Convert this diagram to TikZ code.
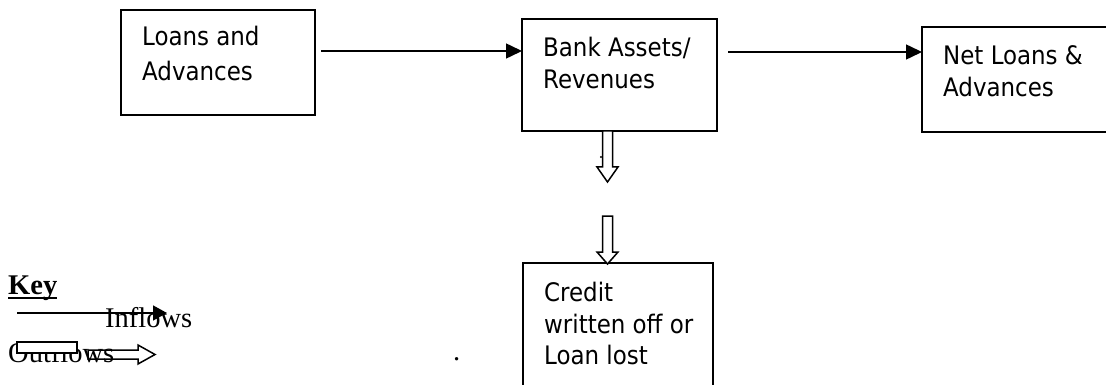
\documentclass[tikz,border=0pt]{standalone}
\usepackage{fontspec}
\usetikzlibrary{arrows.meta}
\newfontfamily\boxfont{DejaVu Sans Condensed}
\newfontfamily\keyfont{Liberation Serif}
\begin{document}
\begin{tikzpicture}[x=1pt,y=-1pt,
  boxnode/.style={draw, line width=1.9pt, inner sep=0pt, outer sep=0pt, anchor=north west},
  txt/.style={anchor=base west, inner sep=0pt, font=\boxfont\fontsize{25.5}{30}\selectfont},
  keytxt/.style={anchor=base west, inner sep=0pt, font=\keyfont\fontsize{28.5}{34}\selectfont},
  flow/.style={line width=1.5pt, -{Triangle[length=16pt,width=15pt]}},
  hollow/.style={draw, line width=1.5pt, fill=white, line join=miter}]
\useasboundingbox (0,0) rectangle (1106,385);
\clip (0,0) rectangle (1106,385);
\fill[white] (0,0) rectangle (1106,385);

% boxes
\node[boxnode, minimum width=194pt, minimum height=105pt] (loans) at (121,10) {};
\node[boxnode, minimum width=195pt, minimum height=112pt] (bank) at (522,19) {};
\node[boxnode, minimum width=200pt, minimum height=105pt] (net) at (922,27) {};
\node[boxnode, minimum width=190pt, minimum height=140pt] (credit) at (523,263) {};

% box texts
\node[txt] (t1) at (142,46) {Loans and};
\node[txt] (t2) at (142,81) {Advances};
\node[txt] (t3) at (543,57) {Bank Assets/};
\node[txt] (t4) at (543,89) {Revenues};
\node[txt] (t5) at (943,65) {Net Loans \&};
\node[txt] (t6) at (943,97) {Advances};
\node[txt] (t7) at (544,301) {Credit};
\node[txt] (t8) at (544,333) {written off or};
\node[txt] (t9) at (544,364) {Loan lost};

% inflow connectors
\coordinate (a1s) at (321,51);
\draw[flow] (a1s) -- (a1s -| bank.west);
\coordinate (a2s) at (728,52);
\draw[flow] (a2s) -- (a2s -| net.west);

% outflow hollow arrows
\coordinate (h1) at (bank.south -| 607.5,0);
\draw[hollow, shift={(h1)}] (-5,0) -- (-5,36) -- (-10.5,36) -- (0,51) -- (10.5,36) -- (5,36) -- (5,0) -- cycle;
\coordinate (h2) at (607.5,216);
\draw[hollow, shift={(h2)}] (-5,0) -- (-5,36) -- (-10.5,36) -- (0,48) -- (10.5,36) -- (5,36) -- (5,0) -- cycle;
\fill (601,157) circle (1.2);

% key
\node[keytxt, font=\keyfont\fontsize{28.5}{34}\selectfont\bfseries] (key) at (8,294) {Key};
\draw[line width=2pt] ([yshift=-3.5pt]key.base west) -- ([yshift=-3.5pt]key.base east);
\node[keytxt] (inf) at (105,327) {Inflows};
\coordinate (k1) at (17,313);
\coordinate (k1e) at (167,313);
\draw[line width=1.5pt, -{Triangle[length=14pt,width=15pt]}] (k1) -- (k1e);
\node[keytxt] (outf) at (8,362) {Outflows};
\node[draw, fill=white, line width=1.5pt, minimum width=60pt, minimum height=11pt, inner sep=0pt, outer sep=0pt, anchor=north west] (krect) at (17,342) {};
\coordinate (k2) at (88,354.5);
\draw[hollow, fill=none, shift={(k2)}] (0,-4.5) -- (50,-4.5) -- (50,-9.5) -- (67,0) -- (50,9.5) -- (50,4.5) -- (0,4.5) -- cycle;
\node[keytxt] (dot) at (453,360) {.};
\end{tikzpicture}
\end{document}
